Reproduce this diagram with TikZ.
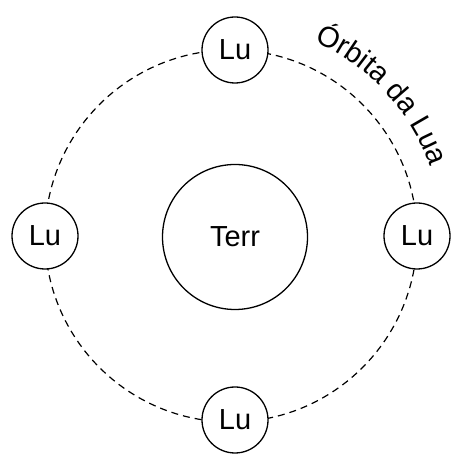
\documentclass[tikz,border=0pt]{standalone}
\usepackage{fontspec}
\setmainfont{Liberation Sans}
\usetikzlibrary{decorations.text}
\newcommand{\orbfont}{\fontsize{29}{29}\selectfont}
\begin{document}
\begin{tikzpicture}[x=1pt,y=1pt,
  body/.style={draw, circle, line width=1.3pt, fill=white, inner sep=0pt, font=\fontsize{29}{29}\selectfont},
  moon/.style={body, minimum size=66pt},
  orbit/.style={line width=1.2pt, dash pattern=on 7pt off 5pt}]
\useasboundingbox (0,0) rectangle (470,462);
\coordinate (oc) at (231,226);
\draw[orbit] (oc) circle (186);
\node[body, minimum size=145pt] (earth) at (235,225) {Terr};
\node[moon] (top) at (235,412) {Lu};
\node[moon] (bottom) at (235,42) {Lu};
\node[moon] (left) at (45,226) {Lu};
\node[moon] (right) at (417,226) {Lu};
\path[decorate, decoration={text along path, text align=center, text={|\orbfont|Órbita da Lua}}]
  (oc) ++(68:211) arc (68:18:211);
\end{tikzpicture}
\end{document}
